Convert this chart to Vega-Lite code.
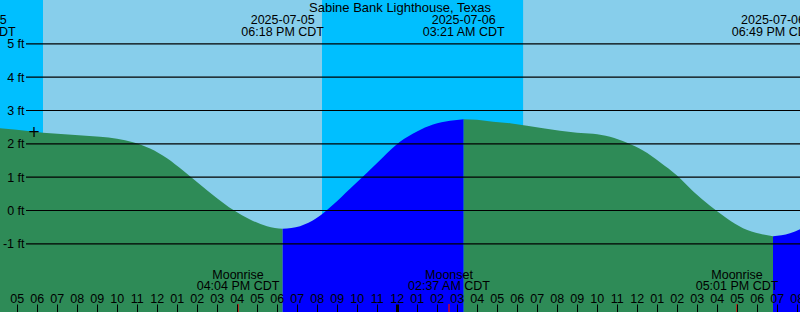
{
  "$schema": "https://vega.github.io/schema/vega-lite/v6.json",
  "width": 800,
  "height": 312,
  "autosize": "none",
  "padding": 0,
  "background": "#87CEEB",
  "config": {
    "view": {"stroke": null},
    "axis": {"labelFont": "Liberation Sans", "labelFontSize": 12.5, "labelColor": "#000000", "labelOverlap": false, "labelFlush": false, "labelBound": false},
    "text": {"font": "Liberation Sans", "fontSize": 12.5, "color": "#000000"}
  },
  "datasets": {
    "sun": [
      {"start": 4.1667, "end": 6.317, "period": "night"},
      {"start": 6.317, "end": 20.267, "period": "day"},
      {"start": 20.267, "end": 30.333, "period": "night"},
      {"start": 30.333, "end": 44.1667, "period": "day"}
    ],
    "tide": [
      {"hour": 4.1667, "height": 2.47, "phase": "falling"},
      {"hour": 5.0, "height": 2.42, "phase": "falling"},
      {"hour": 6.317, "height": 2.33, "phase": "falling"},
      {"hour": 7.75, "height": 2.27, "phase": "falling"},
      {"hour": 9.167, "height": 2.21, "phase": "falling"},
      {"hour": 10.017, "height": 2.15, "phase": "falling"},
      {"hour": 10.817, "height": 2.05, "phase": "falling"},
      {"hour": 11.667, "height": 1.86, "phase": "falling"},
      {"hour": 12.517, "height": 1.57, "phase": "falling"},
      {"hour": 13.317, "height": 1.2, "phase": "falling"},
      {"hour": 14.167, "height": 0.78, "phase": "falling"},
      {"hour": 15.017, "height": 0.37, "phase": "falling"},
      {"hour": 15.817, "height": 0.02, "phase": "falling"},
      {"hour": 16.667, "height": -0.27, "phase": "falling"},
      {"hour": 17.517, "height": -0.47, "phase": "falling"},
      {"hour": 18.3, "height": -0.55, "phase": "falling"},
      {"hour": 18.3, "height": -0.55, "phase": "rising"},
      {"hour": 19.167, "height": -0.47, "phase": "rising"},
      {"hour": 20.017, "height": -0.22, "phase": "rising"},
      {"hour": 20.817, "height": 0.17, "phase": "rising"},
      {"hour": 21.667, "height": 0.65, "phase": "rising"},
      {"hour": 22.517, "height": 1.13, "phase": "rising"},
      {"hour": 23.317, "height": 1.6, "phase": "rising"},
      {"hour": 24.167, "height": 2.06, "phase": "rising"},
      {"hour": 25.017, "height": 2.37, "phase": "rising"},
      {"hour": 25.817, "height": 2.58, "phase": "rising"},
      {"hour": 26.667, "height": 2.69, "phase": "rising"},
      {"hour": 27.35, "height": 2.74, "phase": "rising"},
      {"hour": 27.35, "height": 2.74, "phase": "falling2"},
      {"hour": 28.017, "height": 2.72, "phase": "falling2"},
      {"hour": 28.817, "height": 2.66, "phase": "falling2"},
      {"hour": 29.667, "height": 2.62, "phase": "falling2"},
      {"hour": 30.517, "height": 2.54, "phase": "falling2"},
      {"hour": 31.317, "height": 2.47, "phase": "falling2"},
      {"hour": 32.167, "height": 2.39, "phase": "falling2"},
      {"hour": 33.017, "height": 2.33, "phase": "falling2"},
      {"hour": 33.817, "height": 2.3, "phase": "falling2"},
      {"hour": 34.667, "height": 2.21, "phase": "falling2"},
      {"hour": 35.517, "height": 2.03, "phase": "falling2"},
      {"hour": 36.317, "height": 1.8, "phase": "falling2"},
      {"hour": 37.167, "height": 1.45, "phase": "falling2"},
      {"hour": 38.017, "height": 1.05, "phase": "falling2"},
      {"hour": 38.817, "height": 0.58, "phase": "falling2"},
      {"hour": 39.667, "height": 0.14, "phase": "falling2"},
      {"hour": 40.517, "height": -0.24, "phase": "falling2"},
      {"hour": 41.317, "height": -0.53, "phase": "falling2"},
      {"hour": 42.167, "height": -0.7, "phase": "falling2"},
      {"hour": 42.817, "height": -0.77, "phase": "falling2"},
      {"hour": 42.817, "height": -0.77, "phase": "rising2"},
      {"hour": 43.667, "height": -0.68, "phase": "rising2"},
      {"hour": 44.1667, "height": -0.56, "phase": "rising2"}
    ],
    "levels": [{"ft": -1}, {"ft": 0}, {"ft": 1}, {"ft": 2}, {"ft": 3}, {"ft": 4}, {"ft": 5}],
    "current": [{"hour": 5.867, "height": 2.37, "symbol": "+"}],
    "tideEvents": [
      {"hour": 2.9, "label": "2025-07-05\n02:54 AM CDT"},
      {"hour": 18.3, "label": "2025-07-05\n06:18 PM CDT"},
      {"hour": 27.35, "label": "2025-07-06\n03:21 AM CDT"},
      {"hour": 42.817, "label": "2025-07-06\n06:49 PM CDT"}
    ],
    "moonEvents": [
      {"hour": 16.067, "label": "Moonrise\n04:04 PM CDT"},
      {"hour": 26.617, "label": "Moonset\n02:37 AM CDT"},
      {"hour": 41.017, "label": "Moonrise\n05:01 PM CDT"}
    ],
    "titleRow": [{"hour": 24.167, "label": "Sabine Bank Lighthouse, Texas"}]
  },
  "layer": [
    {
      "data": {"name": "sun"},
      "mark": {"type": "rect"},
      "encoding": {
        "x": {
          "field": "start", "type": "quantitative",
          "scale": {"domain": [4.1667, 44.1667], "nice": false, "zero": false},
          "axis": {
            "orient": "top", "offset": -312, "title": null, "domain": false, "grid": false,
            "values": [5, 6, 7, 8, 9, 10, 11, 12, 13, 14, 15, 16, 17, 18, 19, 20, 21, 22, 23, 24, 25, 26, 27, 28, 29, 30, 31, 32, 33, 34, 35, 36, 37, 38, 39, 40, 41, 42, 43, 44],
            "tickCount": 200,
            "labelExpr": "(datum.value % 12 === 0 ? '12' : (datum.value % 12 < 10 ? '0' : '') + (datum.value % 12))",
            "tickSize": 8, "tickColor": "#000000",
            "tickWidth": {"condition": {"test": "datum.value % 24 === 0", "value": 3}, "value": 1},
            "labelBaseline": "alphabetic", "labelPadding": 2, "labelAngle": 0,
            "labelOverlap": false, "labelFlush": false, "labelBound": false, "zindex": 2
          }
        },
        "x2": {"field": "end"},
        "color": {"field": "period", "type": "nominal", "scale": {"domain": ["day", "night"], "range": ["#87CEEB", "#00BFFF"]}, "legend": null}
      }
    },
    {
      "data": {"name": "tide"},
      "mark": {"type": "area", "interpolate": "monotone"},
      "encoding": {
        "x": {"field": "hour", "type": "quantitative", "title": null},
        "y": {
          "field": "height", "type": "quantitative", "stack": null,
          "scale": {"domain": [-3.045, 6.315], "nice": false, "zero": false},
          "axis": {
            "orient": "left", "offset": -26, "title": null, "domain": false, "ticks": false, "grid": false,
            "values": [-1, 0, 1, 2, 3, 4, 5], "tickCount": 50, "labelExpr": "datum.value + ' ft'",
            "labelPadding": 2, "zindex": 2
          }
        },
        "y2": {"datum": -3.045},
        "fill": {"field": "phase", "type": "nominal", "scale": {"domain": ["falling", "rising", "falling2", "rising2"], "range": ["#2E8B57", "#0000FF", "#2E8B57", "#0000FF"]}, "legend": null}
      }
    },
    {
      "data": {"name": "levels"},
      "mark": {"type": "rule", "color": "#000000", "strokeWidth": 1.2},
      "encoding": {
        "y": {"field": "ft", "type": "quantitative", "title": null},
        "x": {"datum": 5.467, "type": "quantitative", "title": null},
        "x2": {"datum": 44.1667}
      }
    },
    {
      "data": {"name": "current"},
      "mark": {"type": "text", "align": "center", "baseline": "middle", "fontSize": 15, "font": "DejaVu Sans"},
      "encoding": {
        "x": {"field": "hour", "type": "quantitative", "title": null},
        "y": {"field": "height", "type": "quantitative", "title": null},
        "text": {"field": "symbol"}
      }
    },
    {
      "data": {"name": "moonEvents"},
      "mark": {"type": "rule", "color": "#FF0000", "strokeWidth": 1.2},
      "encoding": {
        "x": {"field": "hour", "type": "quantitative", "title": null},
        "y": {"datum": -3.045},
        "y2": {"datum": -2.805}
      }
    },
    {
      "data": {"name": "tideEvents"},
      "mark": {"type": "text", "align": "center", "baseline": "alphabetic", "lineBreak": "\n", "lineHeight": 12},
      "encoding": {
        "x": {"field": "hour", "type": "quantitative", "title": null},
        "y": {"datum": 5.595},
        "text": {"field": "label"}
      }
    },
    {
      "data": {"name": "moonEvents"},
      "mark": {"type": "text", "align": "center", "baseline": "alphabetic", "lineBreak": "\n", "lineHeight": 11.5},
      "encoding": {
        "x": {"field": "hour", "type": "quantitative", "title": null},
        "y": {"datum": -2.04},
        "text": {"field": "label"}
      }
    },
    {
      "data": {"name": "titleRow"},
      "mark": {"type": "text", "align": "center", "baseline": "alphabetic", "fontSize": 13},
      "encoding": {
        "x": {"field": "hour", "type": "quantitative", "title": null},
        "y": {"datum": 5.965},
        "text": {"field": "label"}
      }
    }
  ]
}
